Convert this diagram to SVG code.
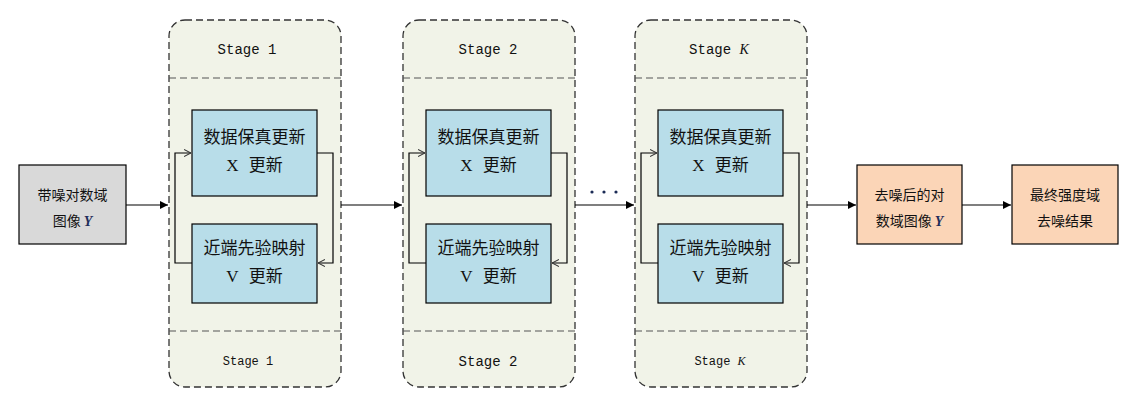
<svg xmlns="http://www.w3.org/2000/svg" width="1132" height="398" viewBox="0 0 1132 398">
<style>
.stage{fill:#f1f3e8;stroke:#333;stroke-width:1.3;stroke-dasharray:7,4}
.div{stroke:#555;stroke-width:1.2;stroke-dasharray:7,4;fill:none}
.inner{fill:#b8dde9;stroke:#000;stroke-width:1.2}
.gray{fill:#d9d9d9;stroke:#000;stroke-width:1.2}
.peach{fill:#fbd5b7;stroke:#000;stroke-width:1.2}
.cn{font-family:"Noto Sans CJK SC","Noto Sans CJK JP",sans-serif;font-size:17px;fill:#111;text-anchor:middle}
.cn2{font-family:"Noto Sans CJK SC","Noto Sans CJK JP",sans-serif;font-size:14px;fill:#111;text-anchor:middle}
.st{font-family:"Liberation Mono",monospace;font-size:14px;fill:#111;text-anchor:middle}
.sts{font-family:"Liberation Mono",monospace;font-size:12px;fill:#111;text-anchor:middle}
.var{font-family:"Liberation Serif",serif;font-style:italic;font-weight:bold}
.k{font-family:"Liberation Serif",serif;font-style:italic}
.lat{font-family:"Liberation Serif",serif}
.conn{stroke:#000;stroke-width:1.2;fill:none}
</style>
<defs>
<marker id="ah" viewBox="0 0 10 10" refX="10" refY="5" markerWidth="12" markerHeight="8" markerUnits="userSpaceOnUse" orient="auto"><path d="M0,0 L10,5 L0,10 z" fill="#000"/></marker>
<marker id="oa" viewBox="0 0 10 10" refX="10" refY="5" markerWidth="7" markerHeight="9" markerUnits="userSpaceOnUse" orient="auto"><path d="M0,0 L10,5 L0,10" fill="none" stroke="#333" stroke-width="1.5"/></marker>
</defs>

<g id="input"><rect class="gray" x="19" y="165" width="107" height="79"/>
<text class="cn2" x="72.5" y="200">带噪对数域</text>
<text class="cn2" x="72.5" y="226">图像 <tspan class="var" fill="#1f2d5a">Y</tspan></text></g>

<g id="stage1">
<rect class="stage" x="169" y="20" width="172" height="367" rx="16"/>
<line class="div" x1="169" y1="78" x2="341" y2="78"/>
<line class="div" x1="169" y1="331" x2="341" y2="331"/>
<text class="st" x="247" y="54">Stage 1</text>
<text class="sts" x="248" y="365">Stage 1</text>
<rect class="inner" x="192" y="110" width="125" height="86"/>
<text class="cn" x="254.5" y="143">数据保真更新</text>
<text class="cn" x="254.5" y="171"><tspan class="lat">X</tspan><tspan dx="10">更新</tspan></text>
<rect class="inner" x="192" y="224" width="125" height="79"/>
<text class="cn" x="254.5" y="254">近端先验映射</text>
<text class="cn" x="254.5" y="282"><tspan class="lat">V</tspan><tspan dx="10">更新</tspan></text>
</g>

<g id="stage2">
<rect class="stage" x="403" y="20" width="172" height="367" rx="16"/>
<line class="div" x1="403" y1="78" x2="575" y2="78"/>
<line class="div" x1="403" y1="331" x2="575" y2="331"/>
<text class="st" x="488" y="54">Stage 2</text>
<text class="st" x="488" y="366">Stage 2</text>
<rect class="inner" x="426" y="110" width="125" height="86"/>
<text class="cn" x="488.5" y="143">数据保真更新</text>
<text class="cn" x="488.5" y="171"><tspan class="lat">X</tspan><tspan dx="10">更新</tspan></text>
<rect class="inner" x="426" y="224" width="125" height="79"/>
<text class="cn" x="488.5" y="254">近端先验映射</text>
<text class="cn" x="488.5" y="282"><tspan class="lat">V</tspan><tspan dx="10">更新</tspan></text>
</g>

<g id="stageK">
<rect class="stage" x="635" y="20" width="172" height="367" rx="16"/>
<line class="div" x1="635" y1="78" x2="807" y2="78"/>
<line class="div" x1="635" y1="331" x2="807" y2="331"/>
<text class="st" x="719" y="54">Stage <tspan class="k">K</tspan></text>
<text class="sts" x="720" y="365">Stage <tspan class="k">K</tspan></text>
<rect class="inner" x="658" y="110" width="125" height="86"/>
<text class="cn" x="720.5" y="143">数据保真更新</text>
<text class="cn" x="720.5" y="171"><tspan class="lat">X</tspan><tspan dx="10">更新</tspan></text>
<rect class="inner" x="658" y="224" width="125" height="79"/>
<text class="cn" x="720.5" y="254">近端先验映射</text>
<text class="cn" x="720.5" y="282"><tspan class="lat">V</tspan><tspan dx="10">更新</tspan></text>
</g>

<g id="dots">
<circle cx="592" cy="192" r="1.6" fill="#1a2a55"/>
<circle cx="604" cy="192" r="1.6" fill="#1a2a55"/>
<circle cx="616" cy="192" r="1.6" fill="#1a2a55"/>
</g>

<g id="output1"><rect class="peach" x="857" y="165" width="105" height="79"/>
<text class="cn2" x="909.5" y="200">去噪后的对</text>
<text class="cn2" x="909.5" y="226">数域图像 <tspan class="var" fill="#1f2d5a">Y</tspan></text></g>

<g id="output2"><rect class="peach" x="1012" y="165" width="106" height="79"/>
<text class="cn2" x="1065" y="200">最终强度域</text>
<text class="cn2" x="1065" y="226">去噪结果</text></g>

<g id="connectors">
<line class="conn" x1="126" y1="205" x2="168" y2="205" marker-end="url(#ah)"/>
<line class="conn" x1="341" y1="205" x2="402" y2="205" marker-end="url(#ah)"/>
<line class="conn" x1="575" y1="205" x2="634" y2="205" marker-end="url(#ah)"/>
<line class="conn" x1="807" y1="205" x2="856" y2="205" marker-end="url(#ah)"/>
<line class="conn" x1="962" y1="205" x2="1011" y2="205" marker-end="url(#ah)"/>
<path class="conn" d="M192,263 H175 V153 H191" marker-end="url(#oa)"/>
<path class="conn" d="M317,153 H333 V263 H318" marker-end="url(#oa)"/>
<path class="conn" d="M426,263 H409 V153 H425" marker-end="url(#oa)"/>
<path class="conn" d="M551,153 H567 V263 H552" marker-end="url(#oa)"/>
<path class="conn" d="M658,263 H641 V153 H657" marker-end="url(#oa)"/>
<path class="conn" d="M783,153 H799 V263 H784" marker-end="url(#oa)"/>
</g>
</svg>
